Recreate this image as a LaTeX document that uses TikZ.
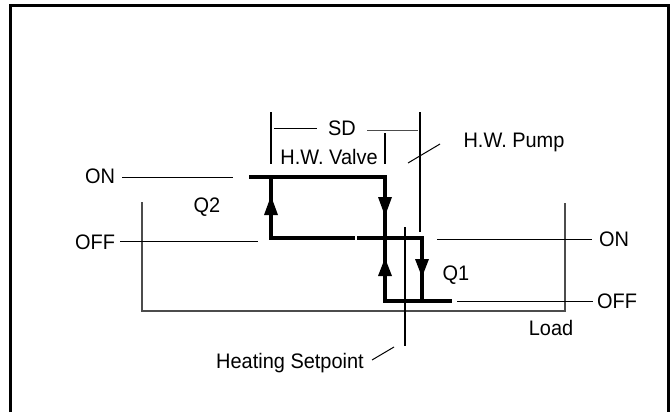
\documentclass[tikz,border=0pt]{standalone}
\usepackage{fontspec}
\setmainfont{Liberation Sans}
\begin{document}
\begin{tikzpicture}[x=1pt,y=-1pt,
  lbl/.style={anchor=base,inner sep=0pt,xscale=0.95,font=\fontsize{21}{25}\selectfont},
  thin/.style={line width=1pt,black},
  grayline/.style={line width=1.1pt,black!70},
  tick/.style={line width=1.8pt,black},
  heavy/.style={line width=3.6pt,black,line cap=butt,line join=miter},
  tri/.style={fill=black}]
\useasboundingbox (0,0) rectangle (671,412);
% frame
\draw[line width=3pt,line join=miter] (10,412) -- (10,5.5) -- (668,5.5) -- (668,412);
% load bracket
\draw[grayline] (142,202) -- (142,311) -- (565,311) -- (565,203);
% labels
\node[lbl] (onL) at (100,183) {ON};
\node[lbl] (offL) at (95,249) {OFF};
\node[lbl] (q2) at (207,212) {Q2};
\node[lbl] (sd) at (342,135) {SD};
\node[lbl] (hwv) at (329,164) {H.W. Valve};
\node[lbl] (hwp) at (514,147) {H.W. Pump};
\node[lbl] (onR) at (614,246) {ON};
\node[lbl] (q1) at (456,280) {Q1};
\node[lbl] (offR) at (617,308) {OFF};
\node[lbl] (load) at (551,335) {Load};
\node[lbl] (hs) at (290,368) {Heating Setpoint};
% leader lines
\draw[thin] (122,177) -- (233,177);
\draw[thin] (120,241) -- (258,241);
\draw[thin] (437,239) -- (592,239);
\draw[thin] (457,301) -- (593,301);
\draw[thin] (274,128) -- (317,128);
\draw[thin,black!70] (367,130) -- (418,130);
\draw[thin] (408,163) -- (440,144);
\draw[thin] (372,360) -- (394,347);
% ticks
\draw[tick] (271,112) -- (271,164);
\draw[tick] (420,112) -- (420,232);
\draw[tick] (385,133) -- (385,164);
\draw[tick] (405,227) -- (405,346);
% heavy hysteresis paths
\draw[heavy] (249,177) -- (385,177) -- (385,301) -- (452,301);
\draw[heavy] (271,177) -- (271,238) -- (355,238);
\draw[heavy] (357,238) -- (422,238) -- (422,301);
% arrow heads
\fill[tri] (271,196) -- (278,215) -- (264,215) -- cycle;
\fill[tri] (385,216) -- (392,197) -- (378,197) -- cycle;
\fill[tri] (385,258) -- (392,276) -- (378,276) -- cycle;
\fill[tri] (422,277) -- (429,259) -- (415,259) -- cycle;
\end{tikzpicture}
\end{document}
